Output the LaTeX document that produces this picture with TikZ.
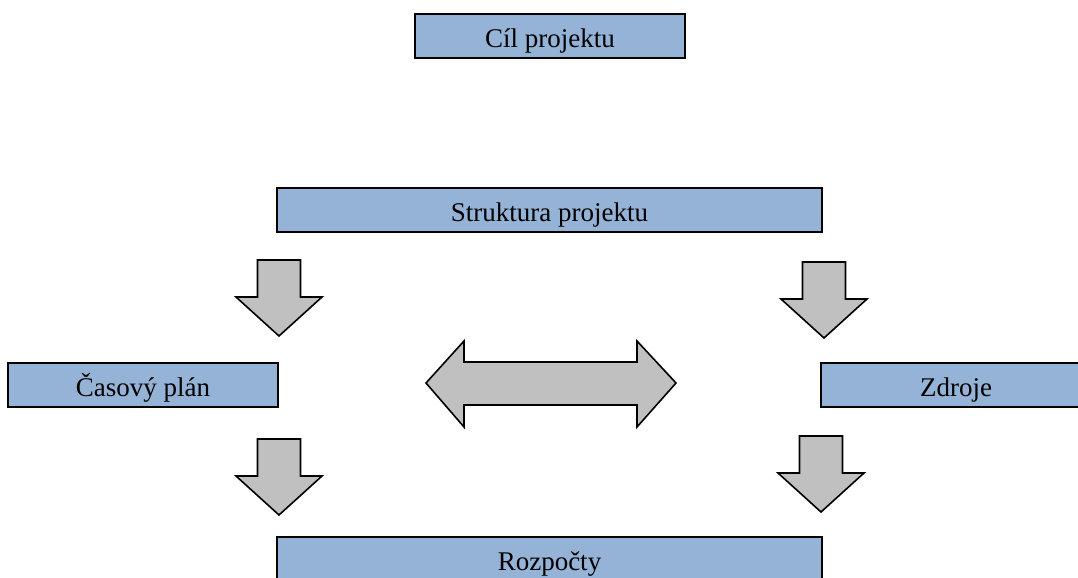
\documentclass[tikz,border=0pt]{standalone}
\usepackage{fontspec}
\setmainfont{Liberation Serif}
\usetikzlibrary{positioning}

\definecolor{boxblue}{HTML}{95B3D7}
\definecolor{arrowgray}{HTML}{C0C0C0}

\tikzset{
  planbox/.style={draw=black, line width=1pt, fill=boxblue, inner sep=0pt,
    minimum height=22pt, text height=11.5pt, text depth=0pt,
    font=\fontsize{13.5}{16}\selectfont},
  bigarrow/.style={draw=black, line width=0.8pt, fill=arrowgray, line join=miter}
}

\begin{document}
\begin{tikzpicture}[x=0.5pt, y=-0.5pt]
    \useasboundingbox (0,0) rectangle (1078,578);

    \node[planbox, minimum width=135pt] (cil) at (550, 35.5) {Cíl projektu};
    \node[planbox, minimum width=272.5pt] (struktura) at (549.5, 209.5) {Struktura projektu};
    \node[planbox, minimum width=135pt] (casovy) at (143, 385) {Časový plán};
    \node[planbox, minimum width=135pt] (zdroje) at (956, 384.5) {Zdroje};
    \node[planbox, minimum width=272.5pt] (rozpocty) at (549.5, 559) {Rozpočty};

    % block arrows down
    \foreach \cx/\ty in {279/260, 824/262, 279/439, 821/436} {
        \draw[bigarrow] (\cx-21.5, \ty) -- (\cx+21.5, \ty) -- (\cx+21.5, \ty+37)
            -- (\cx+43, \ty+37) -- (\cx, \ty+76) -- (\cx-43, \ty+37)
            -- (\cx-21.5, \ty+37) -- cycle;
    }

    % double arrow in the middle
    \draw[bigarrow] (426, 383) -- (464, 341) -- (464, 362) -- (637, 362)
        -- (637, 341) -- (676, 383) -- (637, 427) -- (637, 405)
        -- (464, 405) -- (464, 427) -- cycle;
\end{tikzpicture}
\end{document}
